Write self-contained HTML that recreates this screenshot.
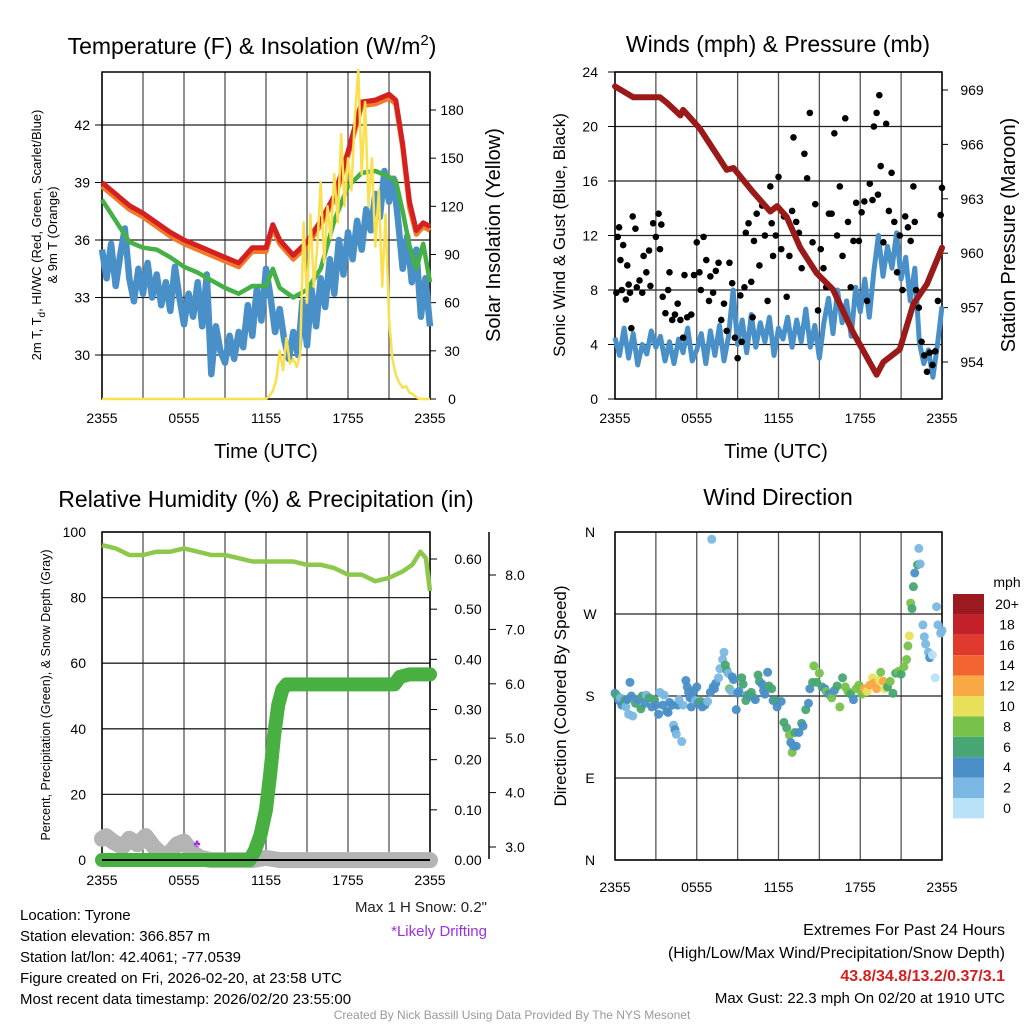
<!DOCTYPE html>
<html><head><meta charset="utf-8"><style>
body{margin:0;background:#fff;}
svg{display:block;font-family:"Liberation Sans",Arial,sans-serif;}
</style></head><body>
<svg id="root" width="1024" height="1024" viewBox="0 0 1024 1024" xmlns="http://www.w3.org/2000/svg"></svg>
<script>
// ===== Panel 1 data =====
const tempHours = [0,1,2,3,4,5,6,7,8,9,10,11,12,12.5,13,14,15,16,17,18,19,20,21,21.5,22,22.5,23,23.5,24];
const tempRed = [39.0,38.4,37.8,37.4,36.9,36.4,36.0,35.7,35.4,35.1,34.8,35.6,35.6,36.8,36.0,35.2,35.9,37.0,38.3,40.6,43.2,43.3,43.6,43.3,41.0,38.0,36.5,36.9,36.7];
const tempOrange = [38.8,38.2,37.6,37.2,36.7,36.2,35.8,35.5,35.2,34.9,34.6,35.4,35.4,36.6,35.8,35.0,35.7,36.8,38.1,40.4,43.0,43.1,43.4,43.1,40.8,37.7,36.3,36.7,36.5];
const tempGreen = [38.1,37.0,35.9,35.6,35.5,35.1,34.6,34.3,33.9,33.5,33.2,33.6,33.6,34.5,33.5,33.0,33.4,34.5,37.0,38.8,39.5,39.6,39.3,39.1,37.5,35.7,34.5,35.8,33.8];
const tempBlue = [35.5,34.0,35.8,33.6,35.2,36.6,34.0,32.8,34.5,33.2,34.8,33.0,34.2,32.6,33.8,32.3,34.6,33.0,31.6,33.2,32.0,33.8,31.5,34.2,29.0,31.5,30.2,29.6,31.0,29.8,31.2,30.4,32.6,31.0,33.5,31.8,34.5,33.0,31.2,32.4,30.8,29.8,31.2,30.0,32.8,30.5,33.4,31.5,34.0,32.5,35.0,33.2,36.0,34.2,36.4,35.0,37.0,35.5,37.6,36.5,38.4,37.2,39.6,38.0,39.2,37.0,34.5,36.2,33.8,35.5,32.0,34.0,31.5];
const insolHours = [0,12,12.25,12.5,12.75,13,13.25,13.5,13.75,14,14.25,14.5,14.75,15,15.25,15.5,15.75,16,16.25,16.5,16.75,17,17.25,17.5,17.75,18,18.25,18.5,18.75,19,19.25,19.5,19.75,20,20.25,20.5,20.75,21,21.25,21.5,21.75,22,22.25,22.5,22.75,23,23.25,23.5,23.75,24];
const insolVals = [0,0,2,5,12,30,18,38,22,25,20,28,110,60,115,70,95,135,85,120,100,140,110,165,120,150,130,175,205,140,185,120,150,95,130,70,115,50,25,15,10,7,8,4,3,1,0,0,0,0];
const p1LeftTicks = [30,33,36,39,42];
const p1RightTicks = [0,30,60,90,120,150,180];
const timeLabels = ["2355","0555","1155","1755","2355"];
// ===== Panel 2 data =====
const presHours = [0,1.35,3.3,3.8,4.8,5.0,6.2,8.2,8.7,10.1,11.4,11.9,12.6,13.6,14.8,16,17.5,19.2,19.7,20.9,21.9,22.9,24];
const presVals = [969.2,968.6,968.6,968.3,967.6,967.9,966.9,964.6,964.7,963.4,962.3,962.6,962.0,960.3,958.9,958.0,955.6,953.3,954.0,954.7,957.2,958.3,960.3];
const windBlue = [4.5,3.2,5.2,3.0,4.8,2.5,4.0,3.3,5.0,3.8,4.6,2.8,4.2,2.6,4.4,3.4,5.2,2.8,3.6,4.8,2.6,5.0,3.2,5.4,2.8,4.6,8.0,4.0,5.8,3.4,6.2,3.8,5.6,4.2,6.0,3.2,5.2,4.4,6.0,3.8,5.8,4.2,6.6,3.8,5.4,3.0,5.6,7.4,4.8,8.0,5.6,7.2,4.6,8.2,6.4,8.8,6.0,9.4,12.0,9.0,11.2,9.6,12.2,8.8,10.4,7.2,9.6,4.2,2.6,3.6,1.6,4.0,6.8];
const gustHours = [0.1,0.2,0.3,0.4,0.5,0.6,0.8,0.9,1.0,1.1,1.2,1.3,1.5,1.6,1.8,2.0,2.1,2.3,2.5,2.6,2.8,3.0,3.2,3.3,3.4,3.5,3.7,3.9,4.0,4.2,4.4,4.6,4.8,5.0,5.1,5.3,5.6,5.8,6.0,6.2,6.3,6.5,6.7,6.9,7.0,7.2,7.4,7.6,7.8,8.0,8.2,8.4,8.6,8.8,9.0,9.2,9.3,9.5,9.6,9.8,10.0,10.1,10.2,10.4,10.6,10.8,11.0,11.2,11.4,11.5,11.6,11.8,12.0,12.2,12.4,12.6,12.8,13.0,13.1,13.3,13.5,13.7,13.9,14.1,14.3,14.5,14.7,14.9,15.1,15.3,15.5,15.7,15.9,16.1,16.3,16.5,16.7,16.9,17.1,17.3,17.5,17.7,17.9,18.1,18.3,18.5,18.7,18.9,19.0,19.2,19.3,19.4,19.5,19.7,19.9,20.1,20.3,20.5,20.7,20.9,21.1,21.3,21.5,21.7,21.9,22.0,22.1,22.3,22.5,22.7,22.9,23.1,23.3,23.5,23.7,23.9,24.0];
const gustVals = [7.8,11.9,12.6,10.2,8.0,11.3,7.3,9.8,8.4,7.8,5.2,13.4,12.5,8.2,8.7,7.8,10.5,9.3,10.9,8.3,12.9,11.9,13.6,11.0,12.8,7.5,6.3,8.0,9.3,5.8,6.2,7.0,5.8,4.5,9.1,6.0,6.2,9.1,11.5,9.3,8.0,11.9,10.2,7.2,9.0,7.8,9.4,10.0,5.8,7.0,5.0,10.0,8.5,4.5,3.0,7.6,4.2,8.2,12.2,12.9,8.6,6.0,11.6,13.6,9.8,14.2,12.0,7.2,15.6,12.9,10.5,12.0,16.3,11.0,13.4,7.5,10.5,13.8,19.2,13.0,12.2,9.6,18.0,16.2,21.0,11.5,14.3,6.5,11.0,9.6,8.2,13.6,13.6,19.5,12.0,15.6,10.5,20.6,13.0,8.2,11.6,14.4,11.6,13.7,14.5,7.2,15.8,14.6,20.0,21.0,15.0,22.3,17.1,11.5,20.2,13.8,16.6,13.0,9.3,12.0,8.0,13.4,12.6,11.6,15.6,13.0,8.0,6.7,4.2,3.2,2.0,3.4,2.5,3.5,7.2,13.5,15.5];
const p2LeftTicks = [0,4,8,12,16,20,24];
const p2RightTicks = [954,957,960,963,966,969];
// ===== Panel 3 data =====
const rhHours = [0,1,2,3,4,5,6,7,8,9,10,11,12,13,14,15,16,17,18,19,20,21,22,22.7,23.3,23.7,24];
const rhVals = [96,95,93,93,94,94,95,94,93,93,92,91,91,91,91,90,90,89,87,87,85,86,88,90,94,92,82];
const precipHours = [0,10.8,11.2,11.6,12.0,12.3,12.6,12.9,13.2,13.5,14,16,18,20,21.4,21.8,22.5,24];
const precipVals = [0,0,0.02,0.05,0.1,0.17,0.25,0.31,0.34,0.35,0.35,0.35,0.35,0.35,0.35,0.365,0.37,0.37];
const snowHours = [0,0.3,0.8,1.5,2.0,2.6,3.2,3.8,4.4,5.0,5.5,6.0,6.6,7.2,8,9,10,11,12,13,14,15,16,17,18,19,20,21,22,23,24];
const snowVals = [3.15,3.2,3.1,3.0,3.15,3.05,3.2,3.0,2.85,2.9,3.05,3.1,2.9,2.8,2.76,2.76,2.76,2.76,2.8,2.76,2.76,2.76,2.76,2.76,2.76,2.76,2.76,2.76,2.76,2.76,2.76];
const p3LeftTicks = [0,20,40,60,80,100];
const p3PrecipTicks = [0,0.1,0.2,0.3,0.4,0.5,0.6];
const p3SnowTicks = [3,4,5,6,7,8];
// ===== Panel 4 data =====
const dirHours = [0.0,0.1,0.3,0.4,0.5,0.7,0.8,0.9,1.0,1.1,1.2,1.3,1.5,1.7,1.9,2.0,2.2,2.3,2.5,2.7,2.9,3.0,3.2,3.3,3.5,3.6,3.8,3.9,4.0,4.2,4.3,4.4,4.5,4.6,4.7,4.9,5.0,5.2,5.3,5.4,5.5,5.6,5.7,5.8,5.9,6.0,6.1,6.3,6.4,6.6,6.8,7.1,7.0,7.2,7.3,7.4,7.6,7.7,7.9,8.0,8.1,8.2,8.3,8.4,8.5,8.6,8.7,8.9,9.0,9.1,9.3,9.4,9.6,9.7,9.9,10.0,10.2,10.3,10.5,10.6,10.8,10.9,11.0,11.2,11.3,11.5,11.6,11.8,11.9,12.2,12.4,12.6,12.8,12.9,13.0,13.1,13.2,13.3,13.5,13.7,13.8,14.0,14.2,14.3,14.5,14.6,14.8,15.0,15.2,15.4,15.5,15.7,15.9,16.1,16.3,16.5,16.7,16.9,17.1,17.3,17.5,17.7,17.9,18.1,18.3,18.5,18.7,18.9,19.0,19.2,19.4,19.5,19.7,19.8,20.0,20.2,20.4,20.6,20.8,21.0,21.2,21.4,21.5,21.6,21.7,21.8,21.9,22.0,22.2,22.3,22.4,22.6,22.7,22.8,23.0,23.1,23.3,23.5,23.6,23.7,23.9,24.0];
const dirDeg = [183,181,175,178,170,175,168,176,160,195,180,158,172,176,166,180,172,181,178,168,176,170,160,184,170,181,163,162,173,170,148,143,138,170,176,130,170,197,190,184,178,168,178,186,175,190,172,174,168,170,174,352,184,190,188,194,200,210,220,228,214,208,205,188,186,201,198,165,183,185,200,193,175,181,180,184,178,176,203,196,193,186,182,206,191,188,175,175,168,174,151,145,137,129,118,125,140,125,140,150,147,165,172,188,195,213,195,205,190,188,185,182,178,186,191,168,200,190,185,182,176,188,192,182,188,185,192,200,194,188,197,206,196,188,190,196,183,205,207,204,212,220,235,246,282,276,300,315,324,342,325,258,245,237,228,222,225,200,278,258,249,252,260,265,308,320,315,330,322];
const dirSpeed = [4,6,4,3,4,6,3,4,2,4,4,2,6,4,6,6,4,2,6,4,6,4,4,2,4,2,4,4,4,4,2,4,2,4,2,2,2,4,4,4,4,4,4,4,2,4,4,6,4,4,2,2,4,4,4,4,2,2,2,2,6,6,2,8,2,4,4,4,4,4,6,6,6,6,4,6,6,4,6,6,4,4,4,4,6,6,4,6,4,4,6,6,8,4,8,4,6,4,4,6,4,6,4,4,6,8,6,8,6,4,8,4,8,4,6,8,6,8,8,6,4,8,8,8,12,10,12,10,12,12,10,8,12,10,6,8,6,6,8,6,8,8,8,10,8,6,6,4,6,2,2,2,2,2,2,4,0,0,2,2,2,2,4,2,8,6,8,6,8];
const dirLabels = ["N","E","S","W","N"];
const speedLabels = ["20+","18","16","14","12","10","8","6","4","2","0"];
const speedColors = ["#9b1a1f","#c3202a","#e0392d","#f26530","#f8a845","#e8e05a","#78c24c","#47a672","#4a8fc7","#7ab8e3","#b9e1f7"];

const NS = "http://www.w3.org/2000/svg";
const root = document.getElementById("root");
function mk(tag, attrs, parent) {
  const e = document.createElementNS(NS, tag);
  for (const k in attrs) e.setAttribute(k, attrs[k]);
  (parent || root).appendChild(e);
  return e;
}
function txt(s, x, y, size, anchor, parent, extra) {
  const t = mk("text", Object.assign({x: x, y: y, "font-size": size, "text-anchor": anchor || "middle", fill: "#000"}, extra || {}), parent);
  t.textContent = s;
  return t;
}
function lin(d0, d1, r0, r1) { return v => r0 + (v - d0) / (d1 - d0) * (r1 - r0); }
function pathFrom(xs, ys, fx, fy) {
  return xs.map((h, i) => (i ? "L" : "M") + fx(h).toFixed(1) + "," + fy(ys[i]).toFixed(1)).join("");
}
function frame(g, L, T, R, B, vgrid, hgridYs) {
  vgrid.forEach(x => mk("line", {x1: x, y1: T, x2: x, y2: B, stroke: "#555", "stroke-width": 1.3}, g));
  hgridYs.forEach(y => mk("line", {x1: L, y1: y, x2: R, y2: y, stroke: "#222", "stroke-width": 1.3}, g));
  mk("rect", {x: L, y: T, width: R - L, height: B - T, fill: "none", stroke: "#000", "stroke-width": 1.5}, g);
}
function vg(L, R) { const a = []; for (let i = 0; i <= 8; i++) a.push(L + (R - L) * i / 8); return a; }

// ===== PANEL 1 =====
(function () {
  const g = mk("g", {});
  
  
  const L = 102, R = 430, T = 72, B = 399;
  const fx = lin(0, 24, L, R), fy = lin(30, 42, 355, 125), fyr = lin(0, 180, 399, 110);
  frame(g, L, T, R, B, vg(L, R), p1LeftTicks.map(fy));
  const t1 = txt("Temperature (F) & Insolation (W/m", 252, 54, 23, "middle", g);
  
  
  const sup = mk("tspan", {dy: -9, "font-size": 15}, t1); sup.textContent = "2";
  const cl = mk("tspan", {dy: 9}, t1); cl.textContent = ")";
  p1LeftTicks.forEach(v => {
    const tk = txt(String(v), 90, fy(v) + 5, 14, "end", g);
    
    
    mk("line", {x1: L - 7, y1: fy(v), x2: L, y2: fy(v), stroke: "#000"}, g);
  });
  p1RightTicks.forEach(v => {
    const tk = txt(String(v), 452, fyr(v) + 5, 14, "middle", g);
    
    
    mk("line", {x1: R, y1: fyr(v), x2: R + 6, y2: fyr(v), stroke: "#000"}, g);
  });
  timeLabels.forEach((s, i) => {
    const tk = txt(s, L + (R - L) * i / 4, 423, 14, "middle", g);
    
    
  });
  const xt = txt("Time (UTC)", 266, 458, 20, "middle", g);
  
  
  const yl = txt("2m T, T", 0, 0, 13, "middle", g, {transform: "translate(41,235) rotate(-90)"});
  
  
  const sb = mk("tspan", {dy: 4, "font-size": 10}, yl); sb.textContent = "d";
  const rest = mk("tspan", {dy: -4}, yl); rest.textContent = ", HI/WC (Red, Green, Scarlet/Blue)";
  const yl2 = txt("& 9m T (Orange)", 0, 0, 13, "middle", g, {transform: "translate(57,235) rotate(-90)"});
  
  
  const yr = txt("Solar Insolation (Yellow)", 0, 0, 20, "middle", g, {transform: "translate(500,235) rotate(-90)"});
  
  
  const blue = mk("path", {d: pathFrom(tempBlue.map((v, i) => i * 24 / (tempBlue.length - 1)), tempBlue, fx, fy), fill: "none", stroke: "#4a90c8", "stroke-width": 6.5, "stroke-linejoin": "round"}, g);
  
  
  const gr = mk("path", {d: pathFrom(tempHours, tempGreen, fx, fy), fill: "none", stroke: "#45b045", "stroke-width": 4.5, "stroke-linejoin": "round"}, g);
  
  
  const og = mk("path", {d: pathFrom(tempHours, tempOrange, fx, fy), fill: "none", stroke: "#f07a2a", "stroke-width": 5, "stroke-linejoin": "round"}, g);
  
  
  const rd = mk("path", {d: pathFrom(tempHours, tempRed, fx, fy), fill: "none", stroke: "#d42020", "stroke-width": 5, "stroke-linejoin": "round"}, g);
  
  
  const yw = mk("path", {d: pathFrom(insolHours, insolVals, fx, fyr), fill: "none", stroke: "#f8e050", "stroke-width": 2.5, "stroke-linejoin": "round"}, g);
  
  
})();

// ===== PANEL 2 =====
(function () {
  const g = mk("g", {});
  
  
  const L = 615, R = 942, T = 72, B = 399;
  const fx = lin(0, 24, L, R), fy = lin(0, 24, B, T), fyr = lin(954, 969, 362, 90);
  frame(g, L, T, R, B, vg(L, R), p2LeftTicks.map(fy));
  const t1 = txt("Winds (mph) & Pressure (mb)", 778, 52, 23, "middle", g);
  
  
  p2LeftTicks.forEach(v => {
    const tk = txt(String(v), 598, fy(v) + 5, 14, "end", g);
    
    
    mk("line", {x1: L - 7, y1: fy(v), x2: L, y2: fy(v), stroke: "#000"}, g);
  });
  p2RightTicks.forEach(v => {
    const tk = txt(String(v), 972, fyr(v) + 5, 14, "middle", g);
    
    
    mk("line", {x1: R, y1: fyr(v), x2: R + 6, y2: fyr(v), stroke: "#000"}, g);
  });
  timeLabels.forEach((s, i) => {
    const tk = txt(s, L + (R - L) * i / 4, 423, 14, "middle", g);
    
    
  });
  const xt = txt("Time (UTC)", 776, 458, 20, "middle", g);
  
  
  const yl = txt("Sonic Wind & Gust (Blue, Black)", 0, 0, 17, "middle", g, {transform: "translate(565,235) rotate(-90)"});
  
  
  const yr = txt("Station Pressure (Maroon)", 0, 0, 20, "middle", g, {transform: "translate(1015,235) rotate(-90)"});
  
  
  const bl = mk("path", {d: pathFrom(windBlue.map((v, i) => i * 24 / (windBlue.length - 1)), windBlue, fx, fy), fill: "none", stroke: "#4a90c8", "stroke-width": 5, "stroke-linejoin": "round"}, g);
  
  
  gustHours.forEach((h, i) => {
    const c = mk("circle", {cx: fx(h), cy: fy(gustVals[i]), r: 3.3, fill: "#000"}, g);
    
    
  });
  const pr = mk("path", {d: pathFrom(presHours, presVals, fx, fyr), fill: "none", stroke: "#9a1a1a", "stroke-width": 6, "stroke-linejoin": "round", "stroke-linecap": "round"}, g);
  
  
})();

// ===== PANEL 3 =====
(function () {
  const g = mk("g", {});
  
  
  const L = 102, R = 430, T = 532, B = 860;
  const fx = lin(0, 24, L, R), fy = lin(0, 100, B, T), fyp = lin(0, 0.6, 860, 559), fys = lin(3, 8, 847, 575);
  frame(g, L, T, R, B, vg(L, R), p3LeftTicks.map(fy));
  const t1 = txt("Relative Humidity (%) & Precipitation (in)", 266, 507, 23, "middle", g);
  
  
  p3LeftTicks.forEach(v => {
    const tk = txt(String(v), 86, fy(v) + 5, 14, "end", g);
    
    
  });
  p3PrecipTicks.forEach(v => {
    const tk = txt(v.toFixed(2), 468, fyp(v) + 5, 14, "middle", g);
    
    
    mk("line", {x1: R, y1: fyp(v), x2: R + 7, y2: fyp(v), stroke: "#000"}, g);
  });
  mk("line", {x1: 489, y1: 532, x2: 489, y2: 859, stroke: "#000", "stroke-width": 1.5}, g);
  p3SnowTicks.forEach(v => {
    const tk = txt(v.toFixed(1), 515, fys(v) + 5, 14, "middle", g);
    
    
    mk("line", {x1: 489, y1: fys(v), x2: 496, y2: fys(v), stroke: "#000"}, g);
  });
  timeLabels.forEach((s, i) => {
    const tk = txt(s, L + (R - L) * i / 4, 885, 14, "middle", g);
    
    
  });
  const yl = txt("Percent, Precipitation (Green), & Snow Depth (Gray)", 0, 0, 12.5, "middle", g, {transform: "translate(50,695) rotate(-90)"});
  
  
  const sn = mk("path", {d: pathFrom(snowHours, snowVals, fx, fys), fill: "none", stroke: "#b4b4b4", "stroke-width": 16, "stroke-linejoin": "round", "stroke-linecap": "round"}, g);
  
  
  const pc = mk("path", {d: pathFrom(precipHours, precipVals, fx, fyp), fill: "none", stroke: "#47b041", "stroke-width": 14, "stroke-linejoin": "round", "stroke-linecap": "round"}, g);
  
  
  const rh = mk("path", {d: pathFrom(rhHours, rhVals, fx, fy), fill: "none", stroke: "#8cc84b", "stroke-width": 4.5, "stroke-linejoin": "round"}, g);
  
  
  mk("line", {x1: L, y1: B, x2: R, y2: B, stroke: "#000", "stroke-width": 2}, g);
  const dr = txt("♣", 197, 847, 11, "middle", g, {fill: "#9b30e0"});
  
  
})();

// ===== PANEL 4 =====
(function () {
  const g = mk("g", {});
  
  
  const L = 615, R = 942, T = 532, B = 860;
  const fx = lin(0, 24, L, R), fy = lin(0, 360, B, T);
  frame(g, L, T, R, B, vg(L, R), [0, 90, 180, 270, 360].map(fy));
  const t1 = txt("Wind Direction", 778, 505, 23, "middle", g);
  
  
  dirLabels.forEach((s, i) => {
    const tk = txt(s, 590, fy(i * 90) + 5, 14, "middle", g);
    
    
  });
  timeLabels.forEach((s, i) => {
    const tk = txt(s, L + (R - L) * i / 4, 892, 14, "middle", g);
    
    
  });
  const yl = txt("Direction (Colored By Speed)", 0, 0, 17, "middle", g, {transform: "translate(566,696) rotate(-90)"});
  
  
  dirHours.forEach((h, i) => {
    const bin = Math.min(10, Math.floor(dirSpeed[i] / 2));
    const c = mk("circle", {cx: fx(h), cy: fy(dirDeg[i]), r: 4.5, fill: speedColors[10 - bin], "fill-opacity": 0.95}, g);
    
    
  });
  const mph = txt("mph", 1007, 587, 14, "middle", g);
  
  
  speedColors.forEach((c, i) => {
    const r = mk("rect", {x: 953, y: 594 + i * 20.4, width: 31, height: 20.4, fill: c}, g);
    
    
    const tk = txt(speedLabels[i], 1007, 594 + i * 20.4 + 15, 14, "middle", g);
    
    
  });
})();

// ===== Footer text =====
(function () {
  const g = mk("g", {});
  
  
  const left = ["Location: Tyrone", "Station elevation: 366.857 m", "Station lat/lon: 42.4061; -77.0539", "Figure created on Fri, 2026-02-20, at 23:58 UTC", "Most recent data timestamp: 2026/02/20 23:55:00"];
  left.forEach((s, i) => {
    const t = txt(s, 20, 920 + i * 21, 15, "start", g);
    
    
  });
  const ms = txt("Max 1 H Snow: 0.2\"", 487, 912, 15, "end", g, {fill: "#222"});
  
  
  const ld = txt("*Likely Drifting", 487, 936, 15, "end", g, {fill: "#9b30e0"});
  
  
  const e1 = txt("Extremes For Past 24 Hours", 1005, 935, 16, "end", g);
  
  
  const e2 = txt("(High/Low/Max Wind/Precipitation/Snow Depth)", 1005, 958, 16, "end", g);
  
  
  const e3 = txt("43.8/34.8/13.2/0.37/3.1", 1005, 981, 16, "end", g, {fill: "#d42020", "font-weight": "bold"});
  
  
  const e4 = txt("Max Gust: 22.3 mph On 02/20 at 1910 UTC", 1005, 1003, 15, "end", g);
  
  
  const cr = txt("Created By Nick Bassill Using Data Provided By The NYS Mesonet", 512, 1019, 12, "middle", g, {fill: "#999"});
  
  
})();
</script>
</body></html>
